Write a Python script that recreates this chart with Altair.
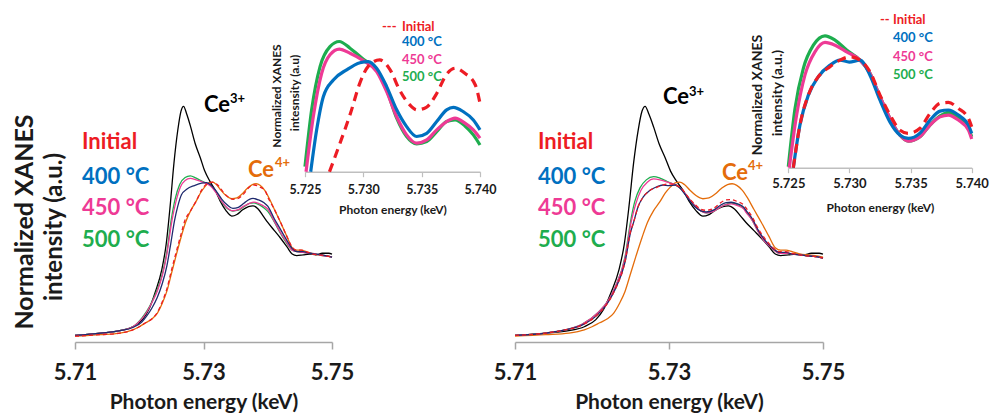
import altair as alt
import pandas as pd

FONT = "Lato"
TXT = "#1a1a1a"
RED = "#ED1C24"
BLUE = "#0070C0"
PINK = "#EE3A95"
GREEN = "#1EAD4E"
ORANGE = "#E46C0A"
NAVY = "#1F2A6E"
BLACK = "#000000"

# ---------------- reference spectra (shared by both panels) ----------------
E_ce3 = [5.7100, 5.7140, 5.7170, 5.7190, 5.7205, 5.7215, 5.7225, 5.7235, 5.7242, 5.7248, 5.7254, 5.7260,
         5.7265, 5.7269, 5.7274, 5.7280, 5.7287, 5.7295, 5.7302, 5.7310, 5.7318, 5.7326, 5.7335, 5.7344,
         5.7352, 5.7361, 5.7370, 5.7377, 5.7385, 5.7393, 5.7400, 5.7410, 5.7420, 5.7430, 5.7438, 5.7445,
         5.7455, 5.7465, 5.7475, 5.7485, 5.7495, 5.7500]
v_ce3 = [0.02, 0.05, 0.08, 0.13, 0.22, 0.35, 0.57, 0.85, 1.18, 1.65, 2.20, 2.62,
         2.86, 2.92, 2.82, 2.66, 2.45, 2.27, 2.10, 1.97, 1.86, 1.72, 1.60, 1.53,
         1.55, 1.61, 1.65, 1.66, 1.62, 1.53, 1.45, 1.35, 1.25, 1.14, 1.05, 1.03,
         1.04, 1.05, 1.04, 1.06, 1.06, 1.05]

E_ce4 = [5.7100, 5.7140, 5.7170, 5.7190, 5.7200, 5.7210, 5.7220, 5.7228, 5.7236, 5.7243, 5.7250, 5.7257,
         5.7265, 5.7272, 5.7280, 5.7288, 5.7295, 5.7302, 5.7308, 5.7314, 5.7320, 5.7327, 5.7335, 5.7344,
         5.7352, 5.7360, 5.7368, 5.7376, 5.7382, 5.7388, 5.7395, 5.7402, 5.7410, 5.7420, 5.7430, 5.7438,
         5.7445, 5.7452, 5.7460, 5.7470, 5.7480, 5.7490, 5.7500]
v_ce4 = [0.01, 0.03, 0.05, 0.09, 0.13, 0.18, 0.23, 0.30, 0.43, 0.58, 0.80, 1.02,
         1.26, 1.45, 1.60, 1.71, 1.82, 1.90, 1.95, 1.96, 1.93, 1.86, 1.79, 1.75,
         1.76, 1.81, 1.88, 1.93, 1.94, 1.92, 1.86, 1.76, 1.62, 1.45, 1.27, 1.13,
         1.10, 1.10, 1.08, 1.05, 1.04, 1.03, 1.01]

# ---------------- left panel samples ----------------
E_L_init = [5.7100, 5.7140, 5.7170, 5.7190, 5.7200, 5.7210, 5.7220, 5.7228, 5.7236, 5.7243, 5.7250, 5.7257,
            5.7265, 5.7271, 5.7280, 5.7289, 5.7297, 5.7304, 5.7314, 5.7323, 5.7331, 5.7340, 5.7346, 5.7354,
            5.7363, 5.7371, 5.7379, 5.7387, 5.7396, 5.7400, 5.7410, 5.7420, 5.7430, 5.7438, 5.7445, 5.7452,
            5.7460, 5.7470, 5.7480, 5.7490, 5.7500]
v_L_init = [0.01, 0.03, 0.05, 0.09, 0.13, 0.18, 0.23, 0.31, 0.45, 0.61, 0.84, 1.06,
            1.30, 1.474, 1.598, 1.728, 1.859, 1.931, 1.960, 1.917, 1.830, 1.764, 1.743, 1.754,
            1.815, 1.895, 1.924, 1.902, 1.851, 1.772, 1.62, 1.45, 1.27, 1.14, 1.10, 1.10,
            1.08, 1.05, 1.04, 1.03, 1.01]

E_L_400 = [5.7100, 5.7140, 5.7170, 5.7190, 5.7204, 5.7212, 5.7220, 5.7228, 5.7236, 5.7243, 5.7249, 5.72549,
           5.7260, 5.72657, 5.72743, 5.72857, 5.72971, 5.73043, 5.73114, 5.7320, 5.73286, 5.73371, 5.73457,
           5.73543, 5.73629, 5.73714, 5.73771, 5.73857, 5.73943, 5.7400, 5.7410, 5.7420, 5.7430, 5.7438,
           5.7446, 5.7455, 5.7465, 5.7475, 5.7485, 5.7495, 5.7500]
v_L_400 = [0.02, 0.05, 0.08, 0.12, 0.19, 0.27, 0.37, 0.50, 0.68, 0.90, 1.18, 1.474,
           1.656, 1.800, 1.873, 1.917, 1.948, 1.953, 1.924, 1.844, 1.743, 1.670, 1.627,
           1.641, 1.692, 1.743, 1.754, 1.735, 1.699, 1.656, 1.50, 1.36, 1.22, 1.12,
           1.08, 1.08, 1.06, 1.05, 1.04, 1.02, 1.01]

E_L_450 = [5.7100, 5.7140, 5.7170, 5.7190, 5.7204, 5.7212, 5.7220, 5.7228, 5.7236, 5.7243, 5.72509, 5.72571,
           5.72643, 5.72714, 5.72794, 5.72886, 5.7300, 5.73114, 5.7320, 5.73286, 5.73371, 5.73457, 5.73543,
           5.73629, 5.73714, 5.73786, 5.73871, 5.73943, 5.7400, 5.7410, 5.7420, 5.7430, 5.7438, 5.7446,
           5.7455, 5.7465, 5.7475, 5.7485, 5.7495, 5.7500]
v_L_450 = [0.02, 0.05, 0.08, 0.13, 0.23, 0.32, 0.44, 0.58, 0.78, 1.05, 1.474, 1.713,
           1.902, 1.982, 2.007, 1.989, 1.957, 1.909, 1.822, 1.713, 1.634, 1.598, 1.612,
           1.656, 1.692, 1.707, 1.685, 1.656, 1.620, 1.47, 1.32, 1.19, 1.10, 1.08,
           1.07, 1.06, 1.05, 1.03, 1.02, 1.01]

E_L_500 = [5.7100, 5.7140, 5.7170, 5.7190, 5.7204, 5.7212, 5.7220, 5.7228, 5.7236, 5.7243, 5.7250, 5.72557,
           5.72629, 5.72714, 5.72794, 5.72886, 5.7300, 5.73114, 5.7320, 5.73286, 5.73371, 5.73457, 5.73543,
           5.73629, 5.73714, 5.73786, 5.73871, 5.73943, 5.7400, 5.7410, 5.7420, 5.7430, 5.7438, 5.7446,
           5.7455, 5.7465, 5.7475, 5.7485, 5.7495, 5.7500]
v_L_500 = [0.02, 0.05, 0.08, 0.13, 0.24, 0.33, 0.45, 0.60, 0.80, 1.08, 1.496, 1.743,
           1.931, 2.018, 2.040, 2.011, 1.963, 1.917, 1.830, 1.707, 1.627, 1.595, 1.605,
           1.648, 1.692, 1.699, 1.673, 1.634, 1.590, 1.46, 1.31, 1.18, 1.10, 1.08,
           1.07, 1.06, 1.05, 1.03, 1.02, 1.01]

# ---------------- right panel samples ----------------
E_R_init = [5.7100, 5.7140, 5.7165, 5.7187, 5.7208, 5.7221, 5.7230, 5.7243, 5.7250, 5.72541, 5.72595, 5.72664,
            5.72745, 5.72841, 5.72923, 5.73005, 5.73086, 5.73168, 5.7325, 5.73332, 5.73414, 5.73482, 5.73577,
            5.73659, 5.73741, 5.73809, 5.73891, 5.73973, 5.7400, 5.7408, 5.7416, 5.7425, 5.7434, 5.7444,
            5.7452, 5.7460, 5.7470, 5.7477, 5.7488, 5.7500]
v_R_init = [0.02, 0.05, 0.09, 0.15, 0.29, 0.44, 0.60, 0.96, 1.33, 1.454, 1.640, 1.771,
            1.851, 1.895, 1.924, 1.938, 1.924, 1.873, 1.771, 1.684, 1.618, 1.604, 1.626,
            1.691, 1.735, 1.739, 1.713, 1.669, 1.633, 1.52, 1.37, 1.24, 1.14, 1.08,
            1.08, 1.06, 1.04, 1.03, 1.02, 1.00]

E_R_400 = [5.7100, 5.7140, 5.7165, 5.7187, 5.7208, 5.7221, 5.7230, 5.7243, 5.7250, 5.72541, 5.72595, 5.72664,
           5.72745, 5.72841, 5.72923, 5.72999, 5.73086, 5.73168, 5.7325, 5.73332, 5.73414, 5.73482, 5.73577,
           5.73659, 5.73741, 5.73809, 5.73891, 5.73973, 5.7400, 5.7408, 5.7416, 5.7425, 5.7434, 5.7444,
           5.7452, 5.7460, 5.7470, 5.7477, 5.7488, 5.7500]
v_R_400 = [0.02, 0.05, 0.09, 0.15, 0.29, 0.44, 0.60, 0.95, 1.32, 1.454, 1.640, 1.771,
           1.851, 1.902, 1.924, 1.915, 1.924, 1.858, 1.749, 1.653, 1.596, 1.582, 1.605,
           1.662, 1.701, 1.706, 1.684, 1.640, 1.604, 1.50, 1.35, 1.22, 1.13, 1.07,
           1.07, 1.05, 1.04, 1.03, 1.02, 1.00]

E_R_450 = [5.7100, 5.7140, 5.7165, 5.7187, 5.7208, 5.7221, 5.7230, 5.7243, 5.72508, 5.72568, 5.72636, 5.72718,
           5.7280, 5.72882, 5.72977, 5.73086, 5.73168, 5.7325, 5.73332, 5.73414, 5.73482, 5.73577, 5.73659,
           5.73741, 5.73809, 5.73891, 5.73973, 5.7400, 5.7408, 5.7416, 5.7425, 5.7434, 5.7444, 5.7452,
           5.7460, 5.7470, 5.7477, 5.7488, 5.7500]
v_R_450 = [0.02, 0.05, 0.09, 0.16, 0.31, 0.46, 0.63, 1.00, 1.454, 1.684, 1.858, 1.960,
           2.001, 1.989, 1.960, 1.924, 1.866, 1.764, 1.669, 1.596, 1.570, 1.589, 1.640,
           1.676, 1.684, 1.662, 1.618, 1.579, 1.48, 1.33, 1.20, 1.12, 1.06, 1.06,
           1.05, 1.04, 1.03, 1.02, 1.00]

E_R_500 = [5.7100, 5.7140, 5.7165, 5.7187, 5.7208, 5.7221, 5.7230, 5.7243, 5.7250, 5.72555, 5.72623, 5.72705,
           5.7280, 5.72882, 5.72977, 5.73086, 5.73168, 5.7325, 5.73332, 5.73414, 5.73482, 5.73577, 5.73659,
           5.73741, 5.73809, 5.73891, 5.73973, 5.7400, 5.7408, 5.7416, 5.7425, 5.7434, 5.7444, 5.7452,
           5.7460, 5.7470, 5.7477, 5.7488, 5.7500]
v_R_500 = [0.02, 0.05, 0.09, 0.16, 0.31, 0.46, 0.63, 1.02, 1.458, 1.713, 1.888, 1.989,
           2.030, 2.011, 1.968, 1.924, 1.866, 1.764, 1.669, 1.596, 1.570, 1.589, 1.640,
           1.680, 1.696, 1.672, 1.626, 1.589, 1.48, 1.33, 1.20, 1.12, 1.06, 1.06,
           1.05, 1.04, 1.03, 1.02, 1.00]

# ---------------- texts ----------------
legend_labels = ["Initial", "400 °C", "450 °C", "500 °C"]
legend_colors = [RED, BLUE, PINK, GREEN]
main_ylabel = ["Normalized XANES", "intensity (a.u.)"]
inset_ylabel_left = ["Normalized XANES", "intesnsity (a.u)"]
inset_ylabel_right = ["Normalized XANES", "intensity (a.u.)"]
x_title = "Photon energy (keV)"
main_ticks = [5.71, 5.73, 5.75]
inset_ticks = [5.725, 5.730, 5.735, 5.740]
ce3_text, ce4_text = ["Ce", "3+"], ["Ce", "4+"]

H = 414
MAIN_Y = [-0.0633, 3.0]
INSET_X = [5.725, 5.740]
L_INSET_LO, R_INSET_LO = 1.474, 1.454

dummy = pd.DataFrame({"k": [0]})


def df_of(E, v, win=None):
    d = pd.DataFrame({"E": E, "v": v})
    if win is not None:
        e0, e1, lo = win
        d = d[(d.E >= e0 - 1e-9) & (d.E <= e1 + 1e-9) & (d.v >= lo - 1e-9)]
    return d


def line(d, xs, ys, color, width, xaxis, dash=None):
    kw = dict(color=color, strokeWidth=width, interpolate="monotone")
    if dash:
        kw["strokeDash"] = dash
    return alt.Chart(d).mark_line(**kw).encode(
        x=alt.X("E:Q", scale=xs, axis=xaxis),
        y=alt.Y("v:Q", scale=ys, axis=None),
    )


def main_axis(axis_y):
    return alt.Axis(orient="bottom", offset=axis_y - H, values=main_ticks, format=".2f", grid=False,
                    domainColor="#a6a6a6", domainWidth=1.5, tickColor="#a6a6a6", tickWidth=1.5, tickSize=7,
                    labelFont=FONT, labelFontSize=22, labelFontWeight="bold", labelColor=TXT,
                    labelPadding=13, labelFlush=False, labelOverlap=False,
                    title=x_title, titleFont=FONT, titleFontSize=21, titleFontWeight="bold",
                    titleColor=TXT, titlePadding=8)


def inset_axis(axis_y, lsize, lpad, tpad):
    return alt.Axis(orient="bottom", offset=axis_y - H, values=inset_ticks, format=".3f", grid=False,
                    domainColor="#bfbfbf", domainWidth=1.5, tickColor="#bfbfbf", tickWidth=1.2, tickSize=5,
                    labelFont=FONT, labelFontSize=lsize, labelFontWeight="bold", labelColor=TXT,
                    labelPadding=lpad, labelFlush=False, labelOverlap=False,
                    title=x_title, titleFont=FONT, titleFontSize=12, titleFontWeight="bold",
                    titleColor=TXT, titlePadding=tpad)


def label(s, x, y, size, color=TXT, angle=0, align="left"):
    return alt.Chart(dummy).mark_text(text=s, font=FONT, fontSize=size, fontWeight="bold", color=color,
                                      angle=angle, align=align, baseline="middle").encode(
        x=alt.value(x), y=alt.value(y))


ys_main = alt.Scale(domain=MAIN_Y, range=[342, 100], nice=False, zero=False)


def main_group(x0, x1, init, s400, s450, s500):
    xs = alt.Scale(domain=[5.71, 5.75], range=[x0, x1], nice=False, zero=False)
    ax = main_axis(342)
    return alt.layer(
        line(df_of(E_ce3, v_ce3), xs, ys_main, BLACK, 1.3, ax),
        line(df_of(E_ce4, v_ce4), xs, ys_main, ORANGE, 1.3, ax),
        line(df_of(*s500), xs, ys_main, GREEN, 1.3, ax),
        line(df_of(*s450), xs, ys_main, PINK, 1.3, ax),
        line(df_of(*s400), xs, ys_main, NAVY, 1.3, ax),
        line(df_of(*init), xs, ys_main, RED, 1.3, ax, dash=[4, 3]),
    )


def inset_group(x0, x1, axis_y, top_y, lo, per_px_ref, init, s400, s450, s500, lsize, lpad, tpad):
    ref_v, ref_py, ppu = per_px_ref
    hi = ref_v + (ref_py - top_y) / ppu
    xs = alt.Scale(domain=INSET_X, range=[x0, x1], nice=False, zero=False)
    ys = alt.Scale(domain=[lo, hi], range=[axis_y, top_y], nice=False, zero=False)
    win = (INSET_X[0], INSET_X[1], lo)
    ax = inset_axis(axis_y, lsize, lpad, tpad)
    return alt.layer(
        line(df_of(*s500, win=win), xs, ys, GREEN, 3.2, ax),
        line(df_of(*s450, win=win), xs, ys, PINK, 3.2, ax),
        line(df_of(*s400, win=win), xs, ys, BLUE, 3.2, ax),
        line(df_of(*init, win=win), xs, ys, RED, 3.2, ax, dash=[9, 6]),
    )


GL = main_group(75, 332, (E_L_init, v_L_init), (E_L_400, v_L_400), (E_L_450, v_L_450), (E_L_500, v_L_500))
GR = main_group(515, 823, (E_R_init, v_R_init), (E_R_400, v_R_400), (E_R_450, v_R_450), (E_R_500, v_R_500))
IL = inset_group(305, 480, 171.7, 28, L_INSET_LO, (1.474, 171.7, 230.0),
                 (E_L_init, v_L_init), (E_L_400, v_L_400), (E_L_450, v_L_450), (E_L_500, v_L_500),
                 12.5, 7, 8)
IR = inset_group(788.3, 971.7, 167.7, 22, R_INSET_LO, (1.454, 167.7, 229.0),
                 (E_R_init, v_R_init), (E_R_400, v_R_400), (E_R_450, v_R_450), (E_R_500, v_R_500),
                 13, 5, 12)

texts = []
# main y title
texts.append(label(main_ylabel[0], 25, 222, 25, angle=270, align="center"))
texts.append(label(main_ylabel[1], 55, 227, 24, angle=270, align="center"))
# main legends
for lx in (82, 538):
    for lab, col, ly in zip(legend_labels, legend_colors, [142, 177, 208, 240]):
        texts.append(label(lab, lx, ly, 22, col))
# Ce labels
texts += [label(ce3_text[0], 204, 105, 22, BLACK), label(ce3_text[1], 230, 99, 13, BLACK),
          label(ce3_text[0], 663, 97, 22, BLACK), label(ce3_text[1], 689, 92, 13, BLACK),
          label(ce4_text[0], 248, 170, 22, ORANGE), label(ce4_text[1], 275, 163, 13, ORANGE),
          label(ce4_text[0], 722, 173, 22, ORANGE), label(ce4_text[1], 748, 166, 13, ORANGE)]
# inset legends
texts.append(label("---", 382, 27, 13, RED))
for lab, col, ly in zip(legend_labels, legend_colors, [27, 42, 60, 77]):
    texts.append(label(lab, 402, ly, 13, col))
texts.append(label("--", 880, 20, 13, RED))
for lab, col, ly in zip(legend_labels, legend_colors, [20, 38, 57, 75]):
    texts.append(label(lab, 893, ly, 13, col))
# inset y titles
texts.append(label(inset_ylabel_left[0], 277, 96, 12, angle=270, align="center"))
texts.append(label(inset_ylabel_left[1], 295, 93, 12, angle=270, align="center"))
texts.append(label(inset_ylabel_right[0], 758, 95, 14, angle=270, align="center"))
texts.append(label(inset_ylabel_right[1], 778, 93, 14, angle=270, align="center"))

chart = alt.layer(GL, IL, GR, IR, *texts).resolve_scale(
    x="independent", y="independent").resolve_axis(x="independent", y="independent").properties(
    width=991, height=H, autosize=alt.AutoSizeParams(type="none"), padding=0
).configure_view(stroke=None)

chart.save("out.html", embed_options={"renderer": "svg", "actions": False})
